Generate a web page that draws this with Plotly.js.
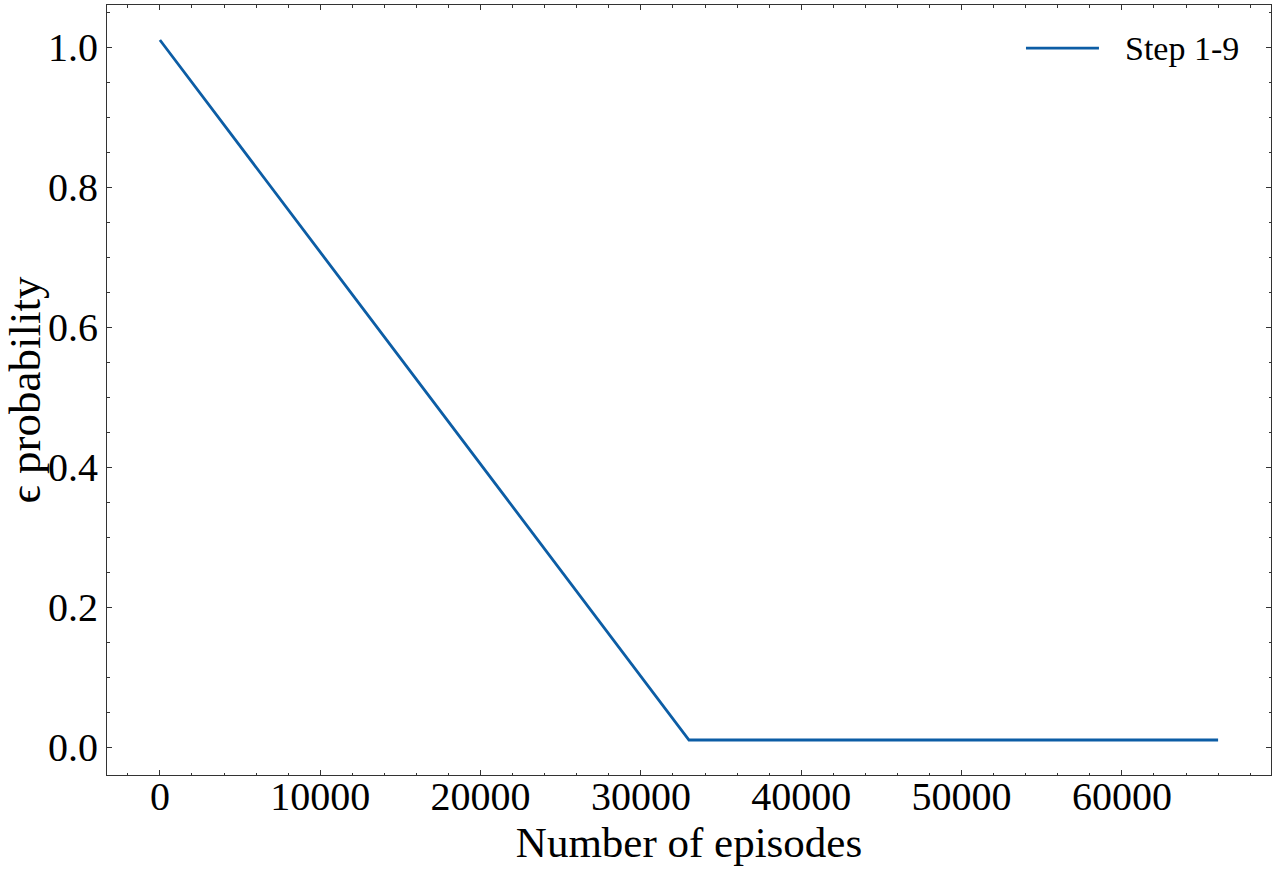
<!DOCTYPE html>
<html>
<head>
<meta charset="utf-8">
<script src="https://cdn.plot.ly/plotly-3.0.1.min.js"></script>
<style>
  html, body { margin: 0; padding: 0; background: #fff; }
  #chart { width: 1274px; height: 869px; }
</style>
</head>
<body>
<div id="chart"></div>
<script>
// ── Data: epsilon decay schedule ─────────────────────────────────────────────
const EPISODES = [0, 33000, 66000];
const EPSILON  = [1.01, 0.01, 0.01];
const SERIES_NAME = 'Step 1-9';

const X_TICKS = [0, 10000, 20000, 30000, 40000, 50000, 60000];
const Y_TICKS = [0.0, 0.2, 0.4, 0.6, 0.8, 1.0];
const Y_TICK_TEXT = ['0.0', '0.2', '0.4', '0.6', '0.8', '1.0'];

// ── Style ────────────────────────────────────────────────────────────────────
const LINE_COLOR = '#0C5DA5';
const SERIF = 'Liberation Serif, DejaVu Serif, serif';

const AXIS = {
  showgrid: false, zeroline: false,
  showline: true, linecolor: '#333', linewidth: 1,
  mirror: 'allticks',
  ticks: 'inside', ticklen: 5, tickwidth: 1, tickcolor: '#333',
  tickfont: { family: SERIF, size: 40, color: '#000' },
};

const trace = {
  x: EPISODES, y: EPSILON, name: SERIES_NAME,
  type: 'scatter', mode: 'lines',
  line: { color: LINE_COLOR, width: 2.8 },
  showlegend: false,
};

const layout = {
  width: 1274, height: 869,
  paper_bgcolor: '#fff', plot_bgcolor: '#fff',
  margin: { l: 107, r: 3, t: 5, b: 94 },
  font: { family: SERIF, color: '#000' },
  xaxis: Object.assign({}, AXIS, {
    range: [-3300, 69300],
    tickvals: X_TICKS,
    ticktext: X_TICKS.map(String),
    ticklabelstandoff: -14,
    minor: { ticks: 'inside', ticklen: 2.5, tickwidth: 1, tickcolor: '#333', dtick: 2000, tick0: 0 },
    title: { text: 'Number of episodes', font: { family: SERIF, size: 43 }, standoff: 2 },
  }),
  yaxis: Object.assign({}, AXIS, {
    range: [-0.04, 1.06],
    tickvals: Y_TICKS,
    ticktext: Y_TICK_TEXT,
    minor: { ticks: 'inside', ticklen: 2.5, tickwidth: 1, tickcolor: '#333', dtick: 0.05, tick0: 0 },
    title: { text: '\u03f5 probability', font: { family: SERIF, size: 45 }, standoff: 0 },
  }),
  // legend drawn by hand so the sample line matches the long matplotlib handle
  shapes: [{
    type: 'line', xref: 'paper', yref: 'paper',
    x0: 0.7895, x1: 0.8522, y0: 0.944, y1: 0.944,
    line: { color: LINE_COLOR, width: 2.8 },
  }],
  annotations: [{
    xref: 'paper', yref: 'paper', x: 0.8729, y: 0.944,
    xanchor: 'left', yanchor: 'middle', showarrow: false,
    text: SERIES_NAME, font: { family: SERIF, size: 34, color: '#000' },
  }],
};

Plotly.newPlot('chart', [trace], layout, { displayModeBar: false, staticPlot: true });
</script>
</body>
</html>
